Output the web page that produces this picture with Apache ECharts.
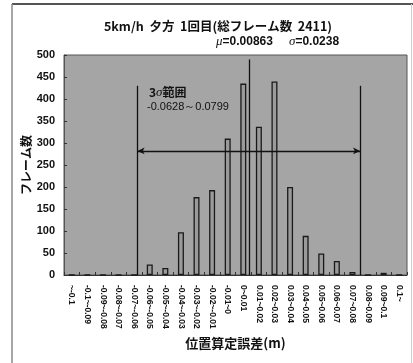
<!DOCTYPE html>
<html>
<head>
<meta charset="utf-8">
<script src="https://cdn.jsdelivr.net/npm/echarts@6/dist/echarts.min.js"></script>
<style>
  html, body { margin: 0; padding: 0; background: #ffffff; }
  #chart { width: 413px; height: 363px; }
</style>
</head>
<body>
<div id="chart"></div>
<script>
// Histogram bins of position error (m)
const binLabels = [
  '~-0.1', '-0.1~-0.09', '-0.09~-0.08', '-0.08~-0.07', '-0.07~-0.06',
  '-0.06~-0.05', '-0.05~-0.04', '-0.04~-0.03', '-0.03~-0.02', '-0.02~-0.01',
  '-0.01~0', '0~0.01', '0.01~0.02', '0.02~0.03', '0.03~0.04', '0.04~0.05',
  '0.05~0.06', '0.06~0.07', '0.07~0.08', '0.08~0.09', '0.09~0.1', '0.1~'
];
// Frame counts per bin
const frameCounts = [0, 0, 0, 0, 0, 24, 16, 97, 177, 193, 310, 435, 337, 440, 200, 89, 49, 32, 7, 0, 5, 0];

// Statistics
const mean = 0.00863;
const sigma = 0.0238;
const rangeLow = -0.0628;
const rangeHigh = 0.0799;
const rangeLineTop = 430;   // height of the 3σ boundary lines
const arrowLevel = 282;     // height of the 3σ range arrow
const meanLineTop = 490;

const yTicks = { min: 0, max: 500, interval: 50 };

const chart = echarts.init(document.getElementById('chart'), null, { renderer: 'canvas' });

const gridLeft = 64, gridTop = 55, gridRight = 6, gridBottom = 88;

const italicGreek = { fontStyle: 'italic', fontFamily: 'Liberation Serif', fontSize: 13, fill: '#111' };

const option = {
  backgroundColor: '#ffffff',
  animation: false,
  title: {
    text: '5km/h  夕方  1回目(総フレーム数  2411)',
    left: 213, top: 15, textAlign: 'center',
    textStyle: { fontFamily: 'Noto Sans CJK JP', fontWeight: 'bold', fontSize: 12.5, color: '#111' }
  },
  graphic: [
    // outer frame
    { type: 'line', shape: { x1: 12, y1: 4, x2: 413, y2: 4 }, style: { stroke: '#555', lineWidth: 2 } },
    { type: 'line', shape: { x1: 12, y1: 4, x2: 12, y2: 363 }, style: { stroke: '#888', lineWidth: 1.5 } },
    { type: 'line', shape: { x1: 411.5, y1: 4, x2: 411.5, y2: 363 }, style: { stroke: '#ccc', lineWidth: 1 } },
    // statistics header
    {
      type: 'text', left: 216, top: 35,
      style: { text: '{i|μ}=0.00863', rich: { i: italicGreek },
               font: 'bold 12px "Liberation Sans"', fill: '#111' }
    },
    {
      type: 'text', left: 289, top: 35,
      style: { text: '{i|σ}=0.0238', rich: { i: italicGreek },
               font: 'bold 12px "Liberation Sans"', fill: '#111' }
    },
    // 3σ range note
    {
      type: 'text', left: 149, top: 86,
      style: { text: '3{i|σ}範囲', rich: { i: { fontStyle: 'italic', fontFamily: 'Liberation Serif', fontSize: 13, fill: '#111' } },
               font: 'bold 12px "Noto Sans CJK JP"', fill: '#111' }
    },
    {
      type: 'text', left: 147, top: 101,
      style: { text: '-0.0628～0.0799', font: '11px "Liberation Sans"', fill: '#111' }
    }
  ],
  grid: {
    left: gridLeft, top: gridTop, right: gridRight, bottom: gridBottom,
    show: true, backgroundColor: '#a5a5a5', borderColor: '#555', borderWidth: 1
  },
  xAxis: [
    {
      type: 'category',
      data: binLabels,
      name: '位置算定誤差(m)',
      nameLocation: 'middle',
      nameGap: 62,
      nameMoveOverlap: false,
      nameTextStyle: { fontFamily: 'Noto Sans CJK JP', fontWeight: 'bold', fontSize: 13, color: '#111' },
      axisLine: { lineStyle: { color: '#333', width: 1 } },
      axisTick: { show: true, inside: true, length: 3, lineStyle: { color: '#333' } },
      axisLabel: {
        interval: 0, rotate: -90, margin: 10,
        fontFamily: 'Liberation Sans', fontWeight: 'bold', fontSize: 8.5, color: '#111'
      },
      splitLine: { show: false }
    },
    {
      // continuous error axis aligned with bin edges, used for statistic lines
      type: 'value',
      min: -0.11, max: 0.11,
      show: false,
      position: 'bottom'
    }
  ],
  yAxis: {
    type: 'value',
    min: yTicks.min, max: yTicks.max, interval: yTicks.interval,
    name: 'フレーム数',
    nameLocation: 'middle',
    nameGap: 32,
    nameMoveOverlap: false,
    nameRotate: 90,
    nameTextStyle: { fontFamily: 'Noto Sans CJK JP', fontWeight: 'bold', fontSize: 12, color: '#111' },
    axisLine: { show: true, onZero: false, lineStyle: { color: '#555' } },
    axisTick: { show: true, inside: true, length: 3, lineStyle: { color: '#333' } },
    axisLabel: { margin: 9, fontFamily: 'Liberation Sans', fontWeight: 'bold', fontSize: 11, color: '#111' },
    splitLine: { show: false }
  },
  series: [
    {
      type: 'bar',
      xAxisIndex: 0,
      data: frameCounts,
      barWidth: 6,
      itemStyle: { color: '#9a9a9a', borderColor: '#1a1a1a', borderWidth: 1.3 }
    },
    {
      type: 'line',
      xAxisIndex: 1,
      data: [],
      silent: true,
      markLine: {
        silent: true,
        animation: false,
        label: { show: false },
        lineStyle: { color: '#111', width: 1.3, type: 'solid' },
        data: [
          [{ coord: [rangeLow, 0], symbol: 'none' }, { coord: [rangeLow, rangeLineTop], symbol: 'none' }],
          [{ coord: [rangeHigh, 0], symbol: 'none' }, { coord: [rangeHigh, rangeLineTop], symbol: 'none' }],
          [{ coord: [mean, 0], symbol: 'none' }, { coord: [mean, meanLineTop], symbol: 'none' }],
          [{ coord: [rangeLow, arrowLevel], symbol: 'arrow', symbolSize: [5, 7] },
           { coord: [rangeHigh, arrowLevel], symbol: 'arrow', symbolSize: [5, 7] }]
        ]
      }
    }
  ]
};

chart.setOption(option);
</script>
</body>
</html>
